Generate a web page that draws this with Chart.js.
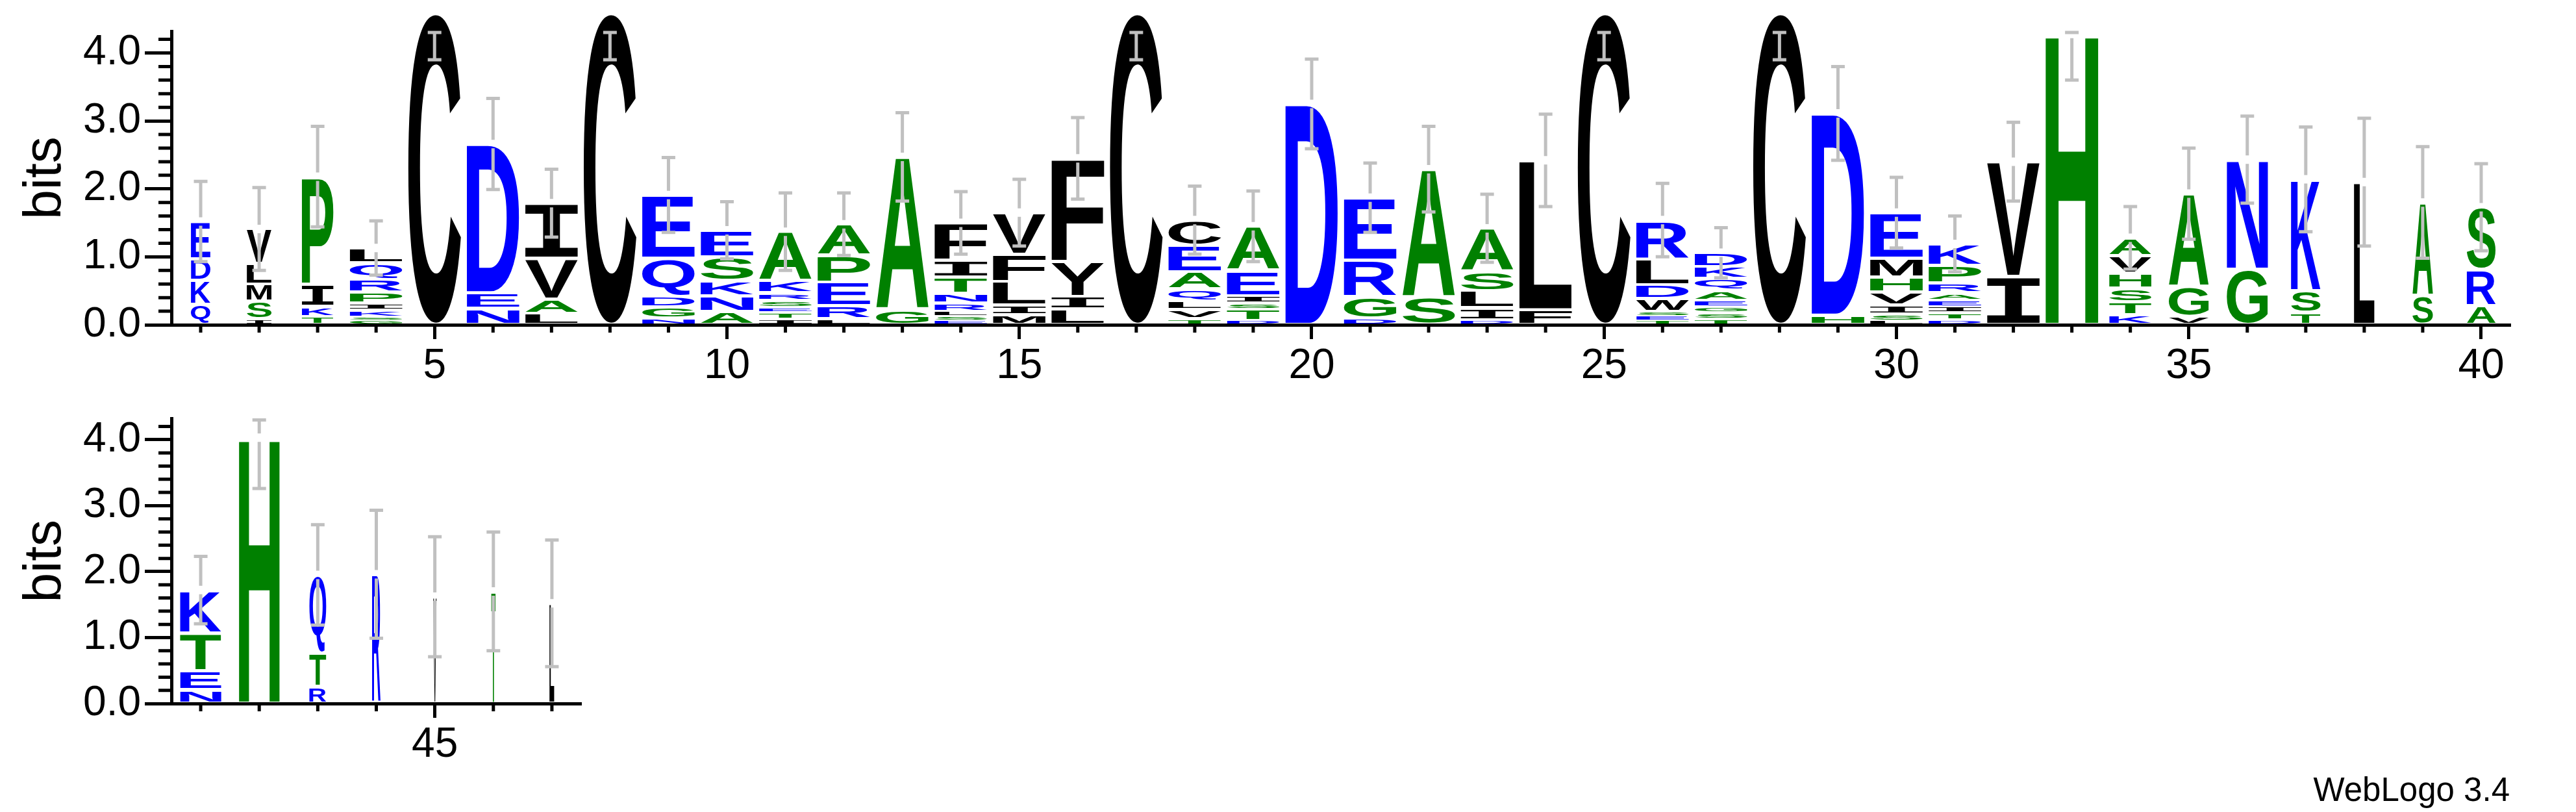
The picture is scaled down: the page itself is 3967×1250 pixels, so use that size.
<!DOCTYPE html>
<html>
<head>
<meta charset="utf-8">
<script src="https://cdn.jsdelivr.net/npm/chart.js@4.4.1/dist/chart.umd.min.js"></script>
<style>
  html, body { margin: 0; padding: 0; background: #fff; }
  body { width: 3967px; height: 1250px; position: relative; overflow: hidden; }
  canvas { position: absolute; left: 0; }
  #logoTop { top: 0; }
  #logoBottom { top: 600px; }
</style>
</head>
<body>
<canvas id="logoTop" width="3967" height="600"></canvas>
<canvas id="logoBottom" width="3967" height="650"></canvas>
<script>
// letters of each stack, bottom to top, one string per position
const stackLetters = [
  "QKDE", "ISMLV", "TKIP", "GSKIPRQL", "C", "NED", "LAVI", "C", "NGDQE", "ANKSE",
  "ITESRKA", "LREPA", "GA", "ESLRNTIF", "MILFV", "LIYF", "C", "TVLQAEC", "DTSIEA", "D",
  "DGRE", "SA", "DILSA", "FL", "C", "TESWDLR", "TSGEAQKD", "C", "HD", "LSIVHME",
  "DTIEARPK", "IV", "H", "KTSHVA", "VGA", "GN", "TSK", "L", "SA", "ARS",
  "NETK", "H", "RTQ", "R", "V", "T", "L"
];
// height in bits of each letter, same order
const stackHeights = [
  [0.30, 0.35, 0.32, 0.55], [0.09, 0.26, 0.25, 0.30, 0.51], [0.12, 0.15, 0.33, 1.58],
  [0.07, 0.04, 0.11, 0.10, 0.16, 0.19, 0.24, 0.22], [4.59], [0.24, 0.23, 2.19],
  [0.17, 0.21, 0.60, 0.81], [4.59], [0.10, 0.16, 0.16, 0.56, 0.93], [0.20, 0.23, 0.22, 0.35, 0.39],
  [0.08, 0.11, 0.06, 0.11, 0.11, 0.18, 0.72], [0.09, 0.19, 0.35, 0.39, 0.46], [0.22, 2.25],
  [0.06, 0.07, 0.07, 0.12, 0.14, 0.24, 0.25, 0.55], [0.15, 0.14, 0.35, 0.40, 0.61],
  [0.23, 0.19, 0.51, 1.52], [4.59], [0.09, 0.13, 0.13, 0.18, 0.25, 0.39, 0.37],
  [0.06, 0.17, 0.09, 0.11, 0.37, 0.65], [3.25], [0.10, 0.31, 0.54, 0.92], [0.40, 1.89],
  [0.07, 0.18, 0.25, 0.28, 0.64], [0.22, 2.20], [4.59], [0.06, 0.07, 0.07, 0.19, 0.20, 0.38, 0.57],
  [0.09, 0.09, 0.09, 0.09, 0.15, 0.17, 0.18, 0.20], [4.59], [0.14, 2.97],
  [0.06, 0.10, 0.13, 0.19, 0.22, 0.28, 0.67], [0.07, 0.11, 0.09, 0.09, 0.11, 0.15, 0.25, 0.32],
  [0.71, 1.69], [4.28], [0.15, 0.19, 0.20, 0.22, 0.26, 0.26], [0.12, 0.44, 1.37], [0.82, 1.61],
  [0.18, 0.32, 1.64], [2.10], [0.43, 1.37], [0.28, 0.53, 0.92],
  [0.21, 0.29, 0.57, 0.65], [4.03], [0.26, 0.50, 1.19], [1.96], [1.62], [1.70], [1.52]
];
// half length of the error bar on each stack, bits
const errorBars = [
  0.59, 0.61, 0.74, 0.40, 0.69, 0.67, 0.50, 0.69, 0.55, 0.42,
  0.57, 0.46, 0.65, 0.46, 0.49, 0.60, 0.69, 0.50, 0.52, 0.66,
  0.51, 0.63, 0.50, 0.68, 0.69, 0.54, 0.37, 0.69, 0.69, 0.52,
  0.41, 0.58, 0.68, 0.46, 0.67, 0.64, 0.77, 0.94, 0.82, 0.64,
  0.51, 0.77, 0.76, 0.97, 0.91, 0.90, 0.96
];
// stack width as a fraction of a full column
const stackWidths = [
  0.37, 0.47, 0.60, 1, 1, 1, 1, 1, 1, 1,
  1, 1, 1, 1, 1, 1, 1, 1, 1, 1,
  1, 1, 1, 1, 1, 1, 1, 1, 1, 1,
  1, 1, 1, 0.80, 0.76, 0.78, 0.56, 0.39, 0.39, 0.55,
  0.78, 0.77, 0.32, 0.16, 0.06, 0.08, 0.09
];
const yTicks = [0, 1, 2, 3, 4];
const yMax = 4.32;
const errTop = 4.30;
const labelEvery = 5;

const colorGroups = [["RKDENQ", "#0000ff"], ["SGHTAP", "#008000"], ["YVMCLFIW", "#000000"]];
function letterColor(ch) {
  for (const [set, c] of colorGroups) if (set.includes(ch)) return c;
  return "#000";
}

const FONT = '"Liberation Sans", Arial, sans-serif';

function drawGlyph(ctx, ch, x0, y0, w, h, color) {
  ctx.save();
  ctx.font = ch === "I" ? 'bold 200px "Liberation Mono", monospace' : "bold 200px " + FONT;
  ctx.textAlign = "left";
  ctx.textBaseline = "alphabetic";
  const m = ctx.measureText(ch);
  const gw = m.actualBoundingBoxLeft + m.actualBoundingBoxRight;
  const gh = m.actualBoundingBoxAscent + m.actualBoundingBoxDescent;
  ctx.translate(x0, y0);
  ctx.scale(w / gw, h / gh);
  ctx.fillStyle = color;
  ctx.fillText(ch, m.actualBoundingBoxLeft, m.actualBoundingBoxAscent);
  ctx.restore();
}

function makePanel(id, first, last, geom) {
  const idx = [];
  for (let p = first; p <= last; p++) idx.push(p - 1);
  const labels = idx.map(i => String(i + 1));
  const maxRank = Math.max(...idx.map(i => stackLetters[i].length));
  const datasets = [];
  for (let r = 0; r < maxRank; r++) {
    datasets.push({
      data: idx.map(i => stackHeights[i][r] || 0),
      backgroundColor: "rgba(0,0,0,0)",
      borderWidth: 0,
      barPercentage: 0.9,
      categoryPercentage: 1,
      stack: "logo"
    });
  }

  const logoPlugin = {
    id: "logo" + id,
    afterDatasetsDraw(chart) {
      const ctx = chart.ctx;
      // letters
      chart.data.datasets.forEach((ds, r) => {
        chart.getDatasetMeta(r).data.forEach((bar, j) => {
          const i = idx[j];
          const ch = stackLetters[i][r];
          if (!ch) return;
          const p = bar.getProps(["x", "y", "base", "width"], true);
          const h = p.base - p.y;
          if (h <= 0.5) return;
          const w = p.width * stackWidths[i];
          const inset = Math.min(2.5, h * 0.2);
          drawGlyph(ctx, ch, p.x - w / 2, p.y + inset, w, h - 2 * inset, letterColor(ch));
        });
      });
      // error bars
      const xs = chart.scales.x, ys = chart.scales.y;
      ctx.save();
      ctx.strokeStyle = "#c0c0c0";
      ctx.lineWidth = 5;
      idx.forEach((i, j) => {
        const total = stackHeights[i].reduce((a, b) => a + b, 0);
        const x = xs.getPixelForValue(j);
        const yT = ys.getPixelForValue(total);
        const yHi = ys.getPixelForValue(Math.min(total + errorBars[i], errTop));
        const yLo = ys.getPixelForValue(total - errorBars[i]);
        const gap = 6.5;
        ctx.beginPath();
        if (yT - gap > yHi) { ctx.moveTo(x, yHi); ctx.lineTo(x, Math.min(yT - gap, yLo)); }
        if (yT + gap < yLo) { ctx.moveTo(x, Math.max(yT + gap, yHi)); ctx.lineTo(x, yLo); }
        ctx.moveTo(x - 10.5, yHi); ctx.lineTo(x + 10.5, yHi);
        ctx.moveTo(x - 10.5, yLo); ctx.lineTo(x + 10.5, yLo);
        ctx.stroke();
      });
      ctx.restore();
    },
    afterDraw(chart) {
      const ctx = chart.ctx, a = chart.chartArea;
      const xs = chart.scales.x, ys = chart.scales.y;
      ctx.save();
      ctx.strokeStyle = "#000";
      ctx.lineWidth = 5;
      ctx.beginPath();
      // minor y ticks every 0.2 bits
      for (let k = 1; k * 0.2 < yMax; k++) {
        if (k % 5 === 0) continue;
        const y = ys.getPixelForValue(k * 0.2);
        ctx.moveTo(a.left - 20, y); ctx.lineTo(a.left, y);
      }
      // short x ticks
      idx.forEach((i, j) => {
        if ((i + 1) % labelEvery === 0) return;
        const x = xs.getPixelForValue(j);
        ctx.moveTo(x, a.bottom); ctx.lineTo(x, a.bottom + 12);
      });
      ctx.stroke();
      if (geom.credit) {
        ctx.fillStyle = "#000";
        ctx.font = "51px " + FONT;
        ctx.textAlign = "right";
        ctx.textBaseline = "alphabetic";
        ctx.fillText(geom.credit, 3865, 633);
      }
      ctx.restore();
    }
  };

  return new Chart(document.getElementById(id), {
    type: "bar",
    data: { labels, datasets },
    options: {
      responsive: false,
      animation: false,
      devicePixelRatio: 1,
      layout: { padding: { left: 0, right: geom.right, top: geom.top, bottom: 0 } },
      plugins: { legend: { display: false }, tooltip: { enabled: false } },
      scales: {
        x: {
          stacked: true,
          offset: true,
          grid: {
            offset: false,
            drawOnChartArea: false,
            tickLength: 22,
            tickWidth: 5,
            tickColor: c => ((idx[c.index] + 1) % labelEvery === 0 ? "#000" : "rgba(0,0,0,0)")
          },
          border: { display: true, color: "#000", width: 5 },
          ticks: {
            autoSkip: false,
            maxRotation: 0,
            padding: 4,
            color: "#000",
            font: { family: FONT, size: 64 },
            callback: (v, j) => ((idx[j] + 1) % labelEvery === 0 ? String(idx[j] + 1) : "")
          },
          afterFit: s => { s.height = geom.xHeight; }
        },
        y: {
          stacked: true,
          min: 0,
          max: yMax,
          afterBuildTicks: s => { s.ticks = yTicks.map(v => ({ value: v })); },
          grid: { drawOnChartArea: false, tickLength: 41, tickWidth: 5, tickColor: "#000" },
          border: { display: true, color: "#000", width: 5 },
          ticks: {
            padding: 6,
            color: "#000",
            font: { family: FONT, size: 64 },
            callback: v => v.toFixed(1)
          },
          title: {
            display: true,
            text: "bits",
            color: "#000",
            font: { family: FONT, size: 82 },
            padding: { top: 21, bottom: 0 }
          },
          afterFit: s => { s.width = 264; }
        }
      }
    },
    plugins: [logoPlugin]
  });
}

makePanel("logoTop", 1, 40, { top: 48, right: 101, xHeight: 100 });
makePanel("logoBottom", 41, 47, { top: 31, right: 3072, xHeight: 167, credit: "WebLogo 3.4" });
</script>
</body>
</html>
